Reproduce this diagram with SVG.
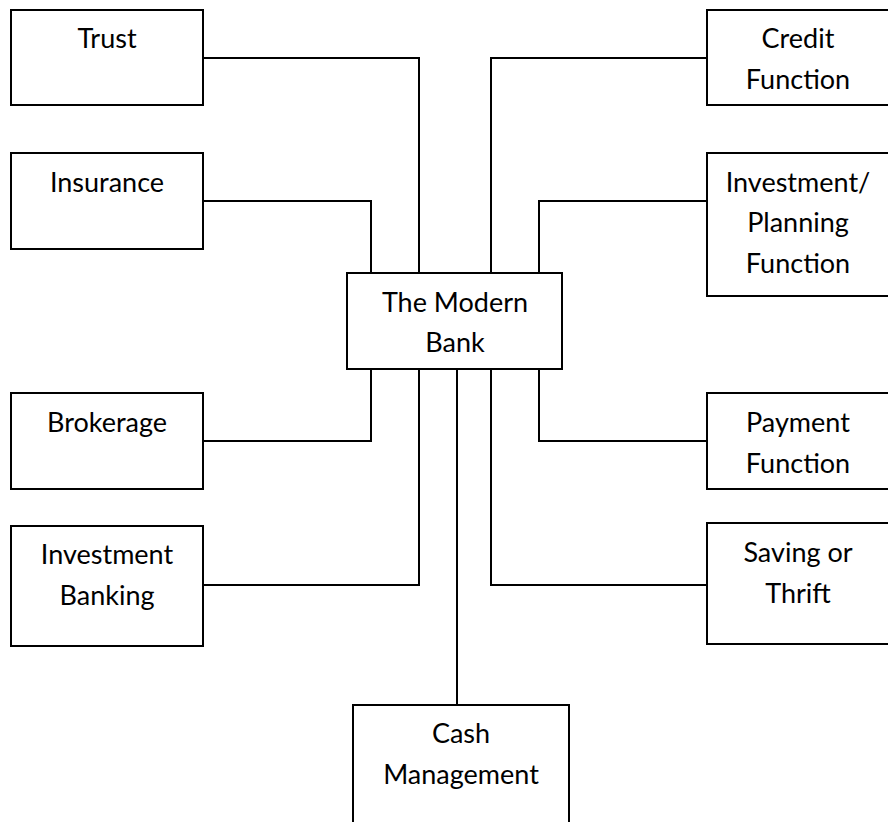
<svg xmlns="http://www.w3.org/2000/svg" width="888" height="822" viewBox="0 0 888 822">
<style>
.box{fill:#fff;stroke:#000;stroke-width:2}
.ln{fill:none;stroke:#000;stroke-width:2}
text{font-family:Lato,"Open Sans",sans-serif;font-size:27px;fill:#000;text-anchor:middle}
</style>
<rect width="888" height="822" fill="#fff"/>
<g id="connectors">
<polyline class="ln" points="203,58 419,58 419,273"/>
<polyline class="ln" points="203,201 371,201 371,273"/>
<polyline class="ln" points="707,58 491,58 491,273"/>
<polyline class="ln" points="707,201 539,201 539,273"/>
<polyline class="ln" points="203,441 371,441 371,369"/>
<polyline class="ln" points="203,585 419,585 419,369"/>
<polyline class="ln" points="707,441 539,441 539,369"/>
<polyline class="ln" points="707,585 491,585 491,369"/>
<polyline class="ln" points="457,369 457,705"/>
</g>
<g id="trust"><rect class="box" x="11" y="10" width="192" height="95"/><text x="107" y="48">Trust</text></g>
<g id="insurance"><rect class="box" x="11" y="153" width="192" height="96"/><text x="107" y="192">Insurance</text></g>
<g id="brokerage"><rect class="box" x="11" y="393" width="192" height="96"/><text x="107" y="432">Brokerage</text></g>
<g id="investment-banking"><rect class="box" x="11" y="526" width="192" height="120"/><text x="107" y="564">Investment</text><text x="107" y="605">Banking</text></g>
<g id="credit"><rect class="box" x="707" y="10" width="184" height="95"/><text x="798" y="48">Credit</text><text x="798" y="89">Function</text></g>
<g id="investment-planning"><rect class="box" x="707" y="153" width="184" height="143"/><text x="798" y="192">Investment/</text><text x="798" y="232">Planning</text><text x="798" y="273">Function</text></g>
<g id="payment"><rect class="box" x="707" y="393" width="184" height="96"/><text x="798" y="432">Payment</text><text x="798" y="473">Function</text></g>
<g id="saving"><rect class="box" x="707" y="523" width="184" height="121"/><text x="798" y="562">Saving or</text><text x="798" y="603">Thrift</text></g>
<g id="modern-bank"><rect class="box" x="347" y="273" width="215" height="96"/><text x="455" y="312">The Modern</text><text x="455" y="352">Bank</text></g>
<g id="cash-management"><rect class="box" x="353" y="705" width="216" height="125"/><text x="461" y="743">Cash</text><text x="461" y="784">Management</text></g>
</svg>
